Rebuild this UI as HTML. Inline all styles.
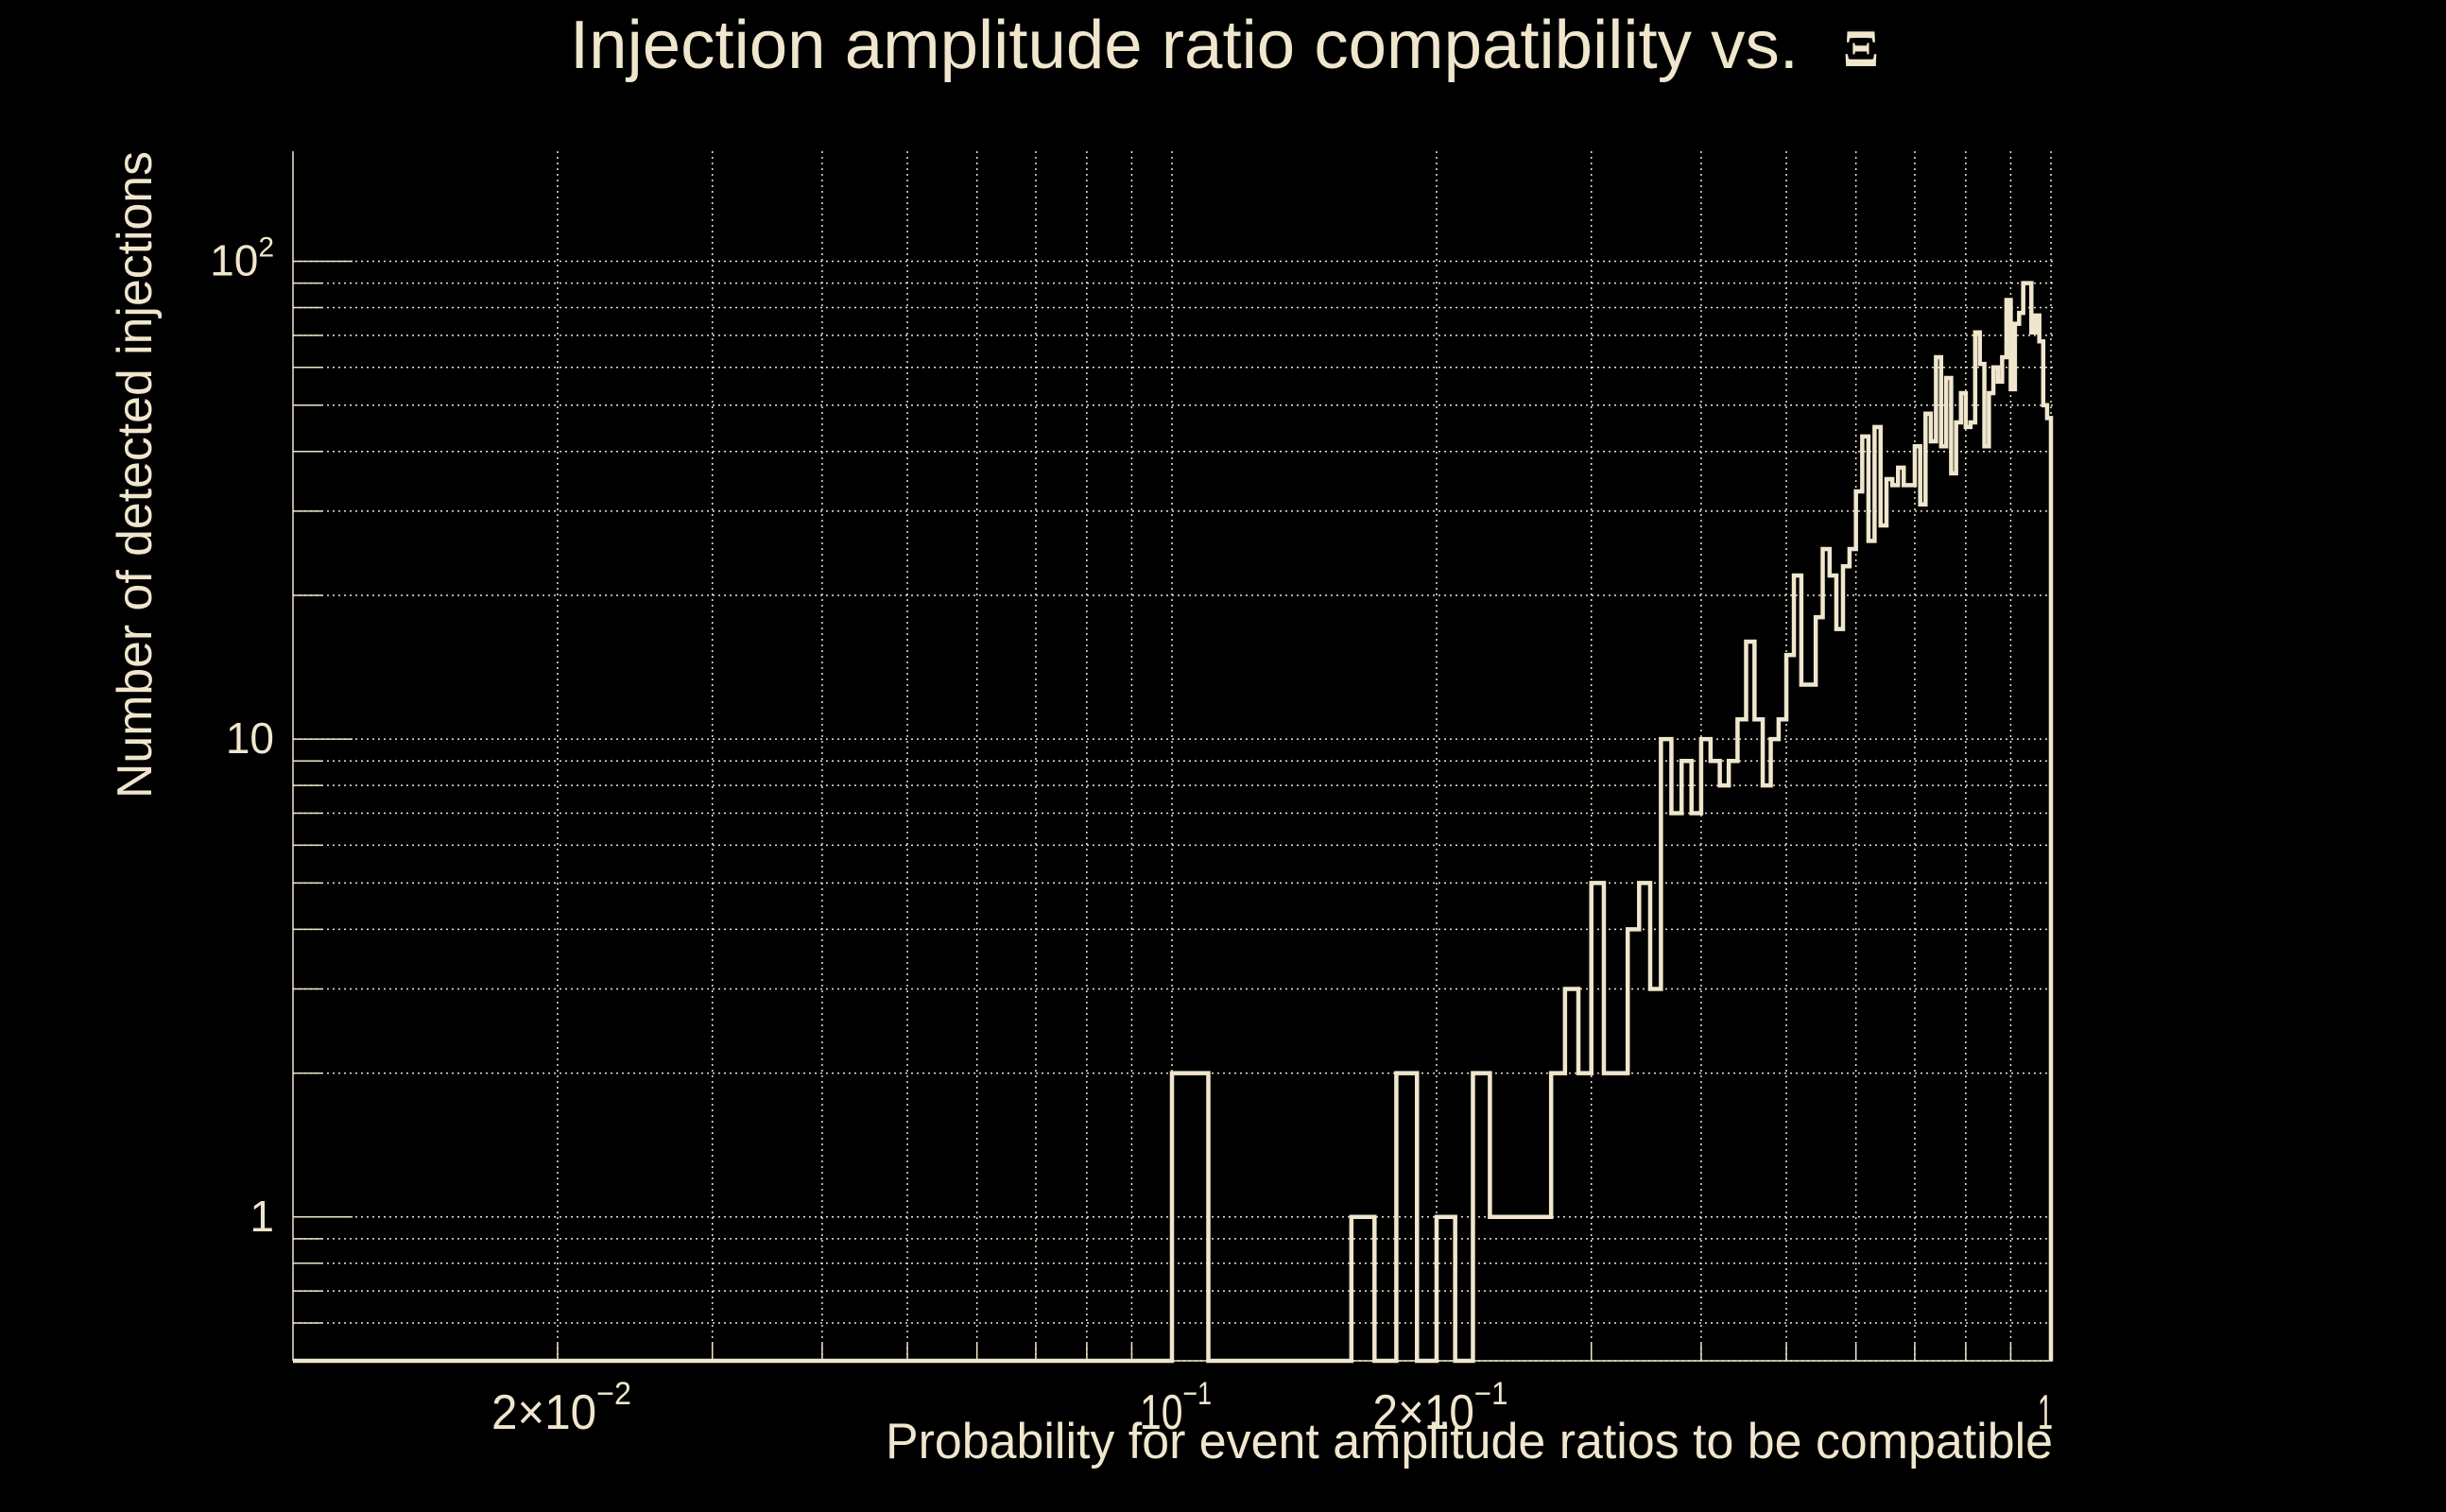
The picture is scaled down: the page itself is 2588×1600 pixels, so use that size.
<!DOCTYPE html>
<html><head><meta charset="utf-8"><style>
html,body{margin:0;padding:0;background:#000;}
svg{display:block;}
text{font-family:"Liberation Sans",sans-serif;fill:#efe6cd;}
</style></head><body>
<svg id="chart" width="2588" height="1600" viewBox="0 0 2588 1600" xmlns="http://www.w3.org/2000/svg">
<rect width="2588" height="1600" fill="#000"/>
<text x="603" y="72" font-size="72" textLength="1300" lengthAdjust="spacingAndGlyphs">Injection amplitude ratio compatibility vs.</text>
<text x="1950" y="70" font-size="56" font-weight="bold" style="font-family:'Liberation Serif',serif">Ξ</text>
<text transform="translate(160,845) rotate(-90)" font-size="52" textLength="685" lengthAdjust="spacingAndGlyphs">Number of detected injections</text>
<text x="937" y="1543" font-size="53" textLength="1235" lengthAdjust="spacingAndGlyphs">Probability for event amplitude ratios to be compatible</text>
<g id="grid"></g>
<g id="axes"></g>
<g id="marks"></g>
<g id="labels"></g>
</svg>
<script>
// bins of width 0.01 from 0.00 to 1.00
const binWidth = 0.01;
const counts = [
0,0,0,0,0,0,0,0,0,0,
2,0,0,0,0,0,1,0,2,0,
1,0,2,1,1,1,1,2,3,2,
5,2,2,4,5,3,10,7,9,7,
10,9,8,9,11,16,11,8,10,11,
15,22,13,13,18,25,22,17,23,25,
33,43,26,45,28,35,34,37,34,34,
41,31,48,42,63,41,57,36,46,53,
45,46,71,61,41,53,60,56,63,83,
54,74,78,90,90,71,77,68,50,47
];
const xTickValues = [0.02, 0.1, 0.2, 1];
const xTickLabels = [["2×10","−2"],["10","−1"],["2×10","−1"],["1",""]];
const yTickValues = [1, 10, 100];
const yTickLabels = [["1",""],["10",""],["10","2"]];

const NS = "http://www.w3.org/2000/svg";
const X0 = 310, X1 = 2170, XMIN = 0.01, XMAX = 1;
const YB = 1440, YT = 160, YMIN = 0.5, YMAX = 170;
const COL = "#efe6cd";
function xs(v){ return X0 + (Math.log10(v) - Math.log10(XMIN)) / (Math.log10(XMAX) - Math.log10(XMIN)) * (X1 - X0); }
function ys(v){ return YB - (Math.log10(v) - Math.log10(YMIN)) / (Math.log10(YMAX) - Math.log10(YMIN)) * (YB - YT); }
function mk(tag, attrs, parent){ const e = document.createElementNS(NS, tag); for (const k in attrs) e.setAttribute(k, attrs[k]); parent.appendChild(e); return e; }

const grid = document.getElementById('grid');
const axes = document.getElementById('axes');
for (let d = -2; d <= -1; d++) for (let m = 1; m <= 9; m++) {
  const v = m * Math.pow(10, d);
  if (v <= XMIN) continue;
  const x = xs(v);
  const g = mk('line', {x1:x, x2:x, y1:YT, y2:YB, stroke:COL, 'stroke-width':1.5, 'stroke-dasharray':'2 4'}, grid);
  
  
  const t = mk('line', {x1:x, x2:x, y1:YB, y2:YB - (m === 1 ? 34 : 18), stroke:COL, 'stroke-width':1.5}, axes);
  
  
}
{ const x = xs(1); const t = mk('line', {x1:x, x2:x, y1:YT, y2:YB, stroke:COL, 'stroke-width':1.5, 'stroke-dasharray':'2 4'}, grid);
  
   }
for (let d = -1; d <= 2; d++) for (let m = 1; m <= 9; m++) {
  const v = m * Math.pow(10, d);
  if (v < YMIN || v > YMAX) continue;
  const y = ys(v);
  const g = mk('line', {x1:X0, x2:2175, y1:y, y2:y, stroke:COL, 'stroke-width':1.5, 'stroke-dasharray':'2 4'}, grid);
  
  
  const t = mk('line', {x1:X0, x2:X0 + (m === 1 ? 63 : 31), y1:y, y2:y, stroke:COL, 'stroke-width':1.5}, axes);
  
  
}
const ax = mk('line', {x1:X0, x2:X0, y1:YT, y2:YB, stroke:COL, 'stroke-width':1.5}, axes);


const bx = mk('line', {x1:X0, x2:X1, y1:YB, y2:YB, stroke:COL, 'stroke-width':1.5}, axes);



const marks = document.getElementById('marks');
let d = 'M' + X0 + ',' + ys(YMIN);
for (let i = 0; i < counts.length; i++) {
  const lo = Math.max(i * binWidth, XMIN), hi = (i + 1) * binWidth;
  if (hi <= XMIN) continue;
  const v = Math.max(counts[i], YMIN);
  const y = ys(v);
  d += ' L' + xs(lo) + ',' + y + ' L' + xs(hi) + ',' + y;
}
d += ' L' + xs(1) + ',' + ys(YMIN);
const path = mk('path', {d:d, fill:'none', stroke:COL, 'stroke-width':4.5, 'stroke-linejoin':'miter'}, marks);



const labels = document.getElementById('labels');
// x tick labels: condensed, centred-ish on tick (right-aligned for "1")
const xLabelWidths = [148, 76, 143, 16];
xTickValues.forEach((v, i) => {
  const w = xLabelWidths[i];
  const x0 = (v === 1) ? xs(v) - w + 2 : xs(v) - w / 2 + 4;
  const t = mk('text', {x:x0, y:1512, 'font-size':52, textLength:w, lengthAdjust:'spacingAndGlyphs'}, labels);
  
  
  const a = document.createElementNS(NS, 'tspan'); a.textContent = xTickLabels[i][0]; t.appendChild(a);
  if (xTickLabels[i][1]) { const b = document.createElementNS(NS, 'tspan'); b.setAttribute('dy', -26); b.setAttribute('font-size', 34); b.textContent = xTickLabels[i][1]; t.appendChild(b); }
});
yTickValues.forEach((v, i) => {
  const t = mk('text', {x:290, y:ys(v) + 15, 'font-size':46, 'text-anchor':'end'}, labels);
  
  
  const a = document.createElementNS(NS, 'tspan'); a.textContent = yTickLabels[i][0]; t.appendChild(a);
  if (yTickLabels[i][1]) { const b = document.createElementNS(NS, 'tspan'); b.setAttribute('dy', -20); b.setAttribute('font-size', 30); b.textContent = yTickLabels[i][1]; t.appendChild(b); }
});
</script>
</body></html>
